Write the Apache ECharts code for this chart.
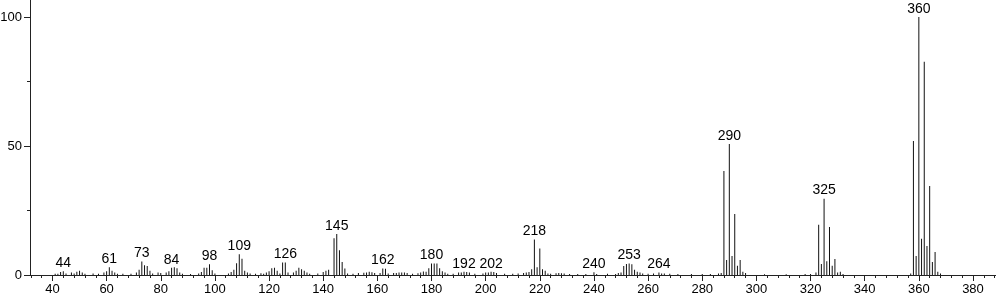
<!DOCTYPE html>
<html>
<head>
<meta charset="utf-8">
<script src="https://cdn.jsdelivr.net/npm/echarts@6/dist/echarts.min.js"></script>
<style>
html,body{margin:0;padding:0;background:#fff;}
#chart{width:996px;height:299px;}
</style>
</head>
<body>
<div id="chart"></div>
<script>
// m/z values
const mz = [
  41,42,43,44,45,47,48,49,50,51,52,55,57,59,60,61,62,63,64,66,69,71,72,73,74,75,76,77,79,80,
  82,83,84,85,86,87,88,91,94,95,96,97,98,99,100,105,106,107,108,109,110,111,112,113,115,117,118,119,120,121,
  122,123,124,125,126,127,129,130,131,132,133,134,135,138,140,141,142,144,145,146,147,148,149,151,153,155,156,157,158,159,
  161,162,163,164,166,167,168,169,170,171,173,175,176,177,178,179,180,181,182,183,184,185,186,188,190,191,192,193,194,196,
  199,200,201,202,203,204,207,210,212,214,215,216,217,218,219,220,221,222,223,224,226,227,228,229,231,234,237,240,241,245,
  248,249,250,251,252,253,254,255,256,257,258,260,262,264,265,266,268,271,276,280,283,286,287,288,289,290,291,292,293,294,
  295,296,303,311,318,320,322,323,324,325,326,327,328,329,330,331,332,357,358,359,360,361,362,363,364,365,366,367,368
];
// relative intensities (%)
const intensity = [
  0.5,0.5,1.2,1.5,0.6,1.0,0.6,1.3,1.6,1.0,0.5,0.6,0.5,1.0,1.5,3.0,1.6,1.0,0.5,0.5,0.5,1.0,2.0,5.2,3.8,3.5,1.6,0.6,1.0,0.8,
  1.0,1.5,2.8,3.0,2.6,1.0,0.5,0.4,0.6,1.2,2.8,2.8,4.2,1.8,0.6,0.6,1.2,2.0,4.6,8.0,6.3,1.6,1.0,0.6,0.5,0.7,0.5,1.0,1.5,2.6,
  2.8,1.6,0.6,4.8,4.8,1.0,1.0,1.6,2.8,2.2,1.6,1.0,0.5,0.6,1.2,1.6,2.0,14.2,15.9,9.6,5.0,2.5,0.6,0.5,0.8,0.9,1.0,1.3,1.1,0.8,
  0.8,2.5,2.4,0.6,0.8,0.8,1.0,1.0,1.0,0.8,0.5,0.7,1.0,1.4,1.3,2.6,4.5,4.5,4.5,2.6,1.5,1.0,0.5,0.5,1.0,1.0,1.3,1.2,1.0,0.5,
  0.6,1.0,1.0,1.3,1.2,0.8,0.5,0.5,0.6,0.8,1.0,1.2,2.2,13.8,3.0,10.3,2.2,1.6,0.6,0.5,0.7,0.8,0.7,0.6,0.4,0.4,0.4,1.1,0.4,0.5,
  0.4,0.8,1.0,3.5,4.3,4.5,4.2,2.0,1.3,1.0,0.6,0.5,0.6,1.0,0.6,0.6,0.5,0.4,0.4,0.4,0.4,0.6,0.8,40.3,5.8,50.8,7.4,23.6,3.6,5.8,
  1.3,0.8,0.3,0.3,0.4,0.4,1.0,19.5,4.3,29.6,5.3,18.6,3.6,6.2,1.0,1.3,0.4,0.6,51.9,7.4,100,14.1,82.7,11.2,34.5,5.0,8.9,1.3,0.6
];
// peaks annotated with their m/z
const labeledPeaks = [44,61,73,84,98,109,126,145,162,180,192,202,218,240,253,264,290,325,360];
// axis tick values
const xMajorTicks = [40,60,80,100,120,140,160,180,200,220,240,260,280,300,320,340,360,380];
const xMinorTicks = [32,36,40,44,48,52,56,60,64,68,72,76,80,84,88,92,96,100,104,108,112,116,120,124,128,132,136,140,144,148,152,156,160,164,168,172,176,180,184,188,192,196,200,204,208,212,216,220,224,228,232,236,240,244,248,252,256,260,264,268,272,276,280,284,288,292,296,300,304,308,312,316,320,324,328,332,336,340,344,348,352,356,360,364,368,372,376,380,384,388];
const yMajorTicks = [0,50,100];
const yMinorTicks = [25,75];

const FONT = 'Liberation Sans, Arial, sans-serif';
const AXIS_COLOR = '#222';

const barData = mz.map((m, i) => {
  const item = { value: [m, intensity[i]] };
  if (labeledPeaks.indexOf(m) >= 0) {
    item.label = { show: true };
  }
  return item;
});

const chart = echarts.init(document.getElementById('chart'), null, { renderer: 'canvas' });
chart.setOption({
  animation: false,
  backgroundColor: '#fff',
  grid: { left: 30, right: 0, top: 0, bottom: 24, containLabel: false, outerBoundsMode: 'none' },
  xAxis: [
    {
      type: 'value', min: 31.7, max: 388.5, position: 'bottom',
      axisLine: { show: true, onZero: false, lineStyle: { color: AXIS_COLOR, width: 1 } },
      axisTick: { show: true, length: 6, customValues: xMajorTicks, lineStyle: { color: AXIS_COLOR } },
      axisLabel: { show: true, customValues: xMajorTicks, margin: 8, fontSize: 13, color: '#000', fontFamily: FONT },
      splitLine: { show: false }
    },
    {
      type: 'value', min: 31.7, max: 388.5, position: 'bottom', offset: 0,
      axisLine: { show: false, onZero: false },
      axisTick: { show: true, length: 3, customValues: xMinorTicks, lineStyle: { color: AXIS_COLOR } },
      axisLabel: { show: false },
      splitLine: { show: false }
    }
  ],
  yAxis: [
    {
      type: 'value', min: 0, max: 106.6, position: 'left',
      axisLine: { show: true, lineStyle: { color: AXIS_COLOR, width: 1 } },
      axisTick: { show: true, length: 6, customValues: yMajorTicks, lineStyle: { color: AXIS_COLOR } },
      axisLabel: { show: true, customValues: yMajorTicks, margin: 8, fontSize: 13, color: '#000', fontFamily: FONT },
      splitLine: { show: false }
    },
    {
      type: 'value', min: 0, max: 106.6, position: 'left', offset: 0,
      axisLine: { show: false },
      axisTick: { show: true, length: 3, customValues: yMinorTicks, lineStyle: { color: AXIS_COLOR } },
      axisLabel: { show: false },
      splitLine: { show: false }
    }
  ],
  series: [{
    type: 'bar',
    xAxisIndex: 0,
    yAxisIndex: 0,
    barWidth: 1,
    itemStyle: { color: '#111' },
    label: {
      show: false,
      position: 'top',
      distance: 1,
      fontSize: 14,
      color: '#000',
      fontFamily: FONT,
      formatter: (p) => String(p.value[0])
    },
    data: barData
  }]
});
</script>
</body>
</html>
